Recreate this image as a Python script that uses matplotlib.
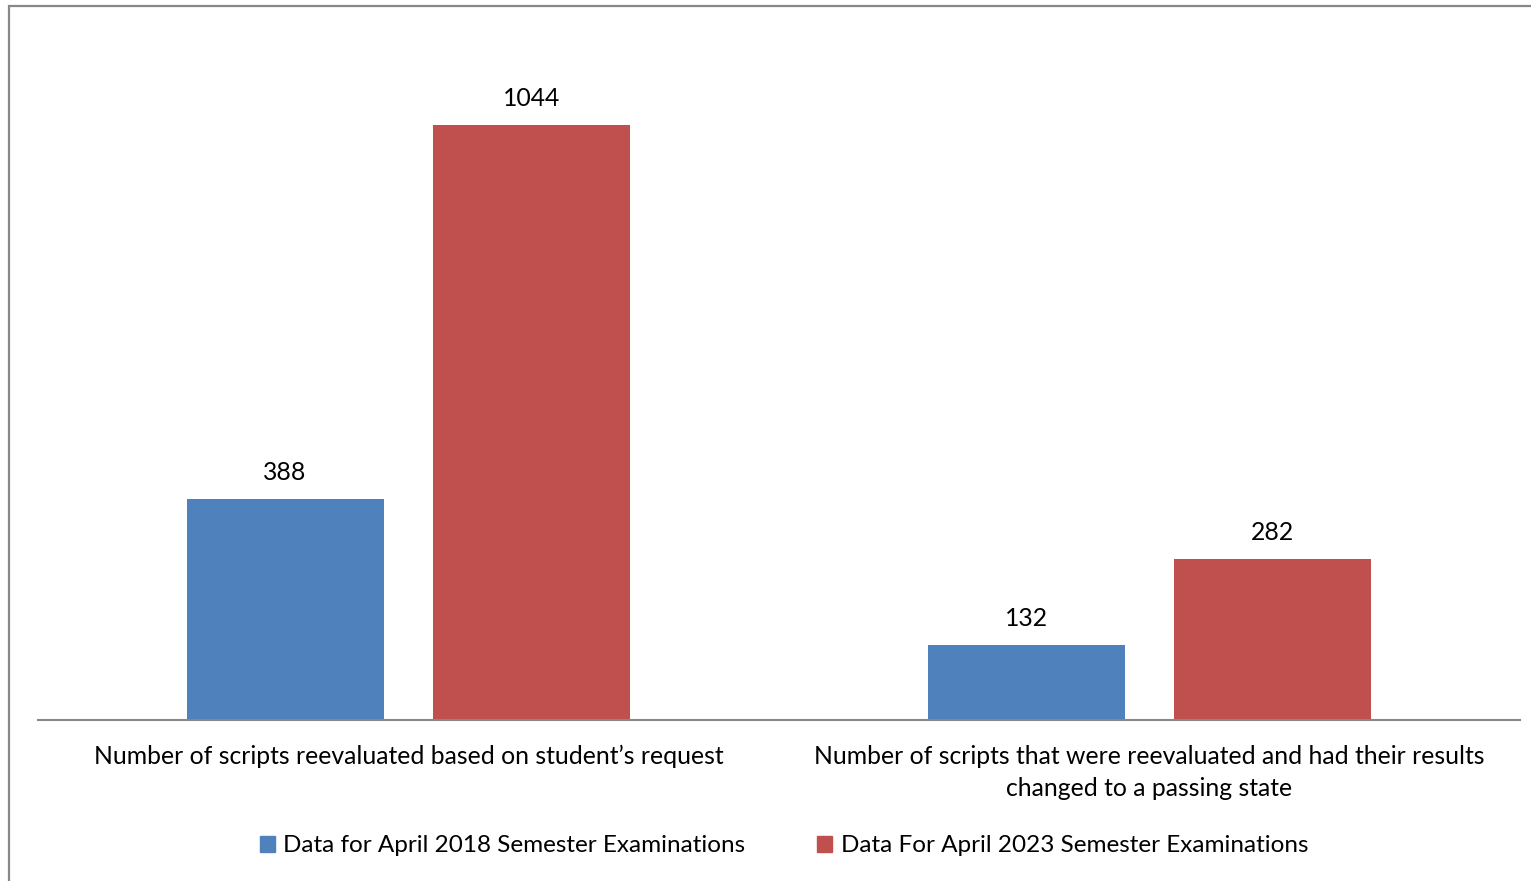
import matplotlib.pyplot as plt
from matplotlib.patches import Rectangle, Patch
import numpy as np

plt.rcParams['font.family'] = ['Lato', 'DejaVu Sans']

categories = ["Number of scripts reevaluated based on student\u2019s request",
              "Number of scripts that were reevaluated and had their results\nchanged to a passing state"]
series_names = ["Data for April 2018 Semester Examinations",
                "Data For April 2023 Semester Examinations"]
values_2018 = [388, 132]
values_2023 = [1044, 282]
colors = ["#4F81BD", "#C0504D"]

fig = plt.figure(figsize=(15.31, 8.81), dpi=100)
ax = fig.add_axes([38 / 1531, 1 - 720 / 881, 1482 / 1531, 684 / 881])

x = np.arange(len(categories))
w = 0.266
off = 0.1665
b1 = ax.bar(x - off, values_2018, w, color=colors[0], label=series_names[0])
b2 = ax.bar(x + off, values_2023, w, color=colors[1], label=series_names[1])

for bars in (b1, b2):
    for r in bars:
        ax.text(r.get_x() + r.get_width() / 2, r.get_height() + 26, str(int(r.get_height())),
                ha='center', va='bottom', fontsize=17.8, color='black')

ax.set_xlim(-0.5, 1.5)
ax.set_ylim(0, 1200)
ax.set_yticks([])
ax.set_xticks(x)
ax.set_xticklabels(categories, fontsize=17.8, linespacing=1.48)
ax.tick_params(axis='x', length=0, pad=18)
for s in ['top', 'right', 'left']:
    ax.spines[s].set_visible(False)
ax.spines['bottom'].set_color('#888888')
ax.spines['bottom'].set_linewidth(1.5)

handles = [Patch(color=colors[0]), Patch(color=colors[1])]
fig.legend(handles, series_names, loc='center', bbox_to_anchor=(784 / 1531, 1 - 846 / 881),
           ncol=2, frameon=False, fontsize=17.5, handlelength=0.62, handleheight=0.62,
           handletextpad=0.35, columnspacing=2.95)

# chart frame
fig.add_artist(Rectangle((8.5 / 1531, -0.1), 1.2, 1 - 6.5 / 881 + 0.1, transform=fig.transFigure,
                         fill=False, edgecolor='#888888', linewidth=1.6))

fig.savefig("out.png", dpi=100)
